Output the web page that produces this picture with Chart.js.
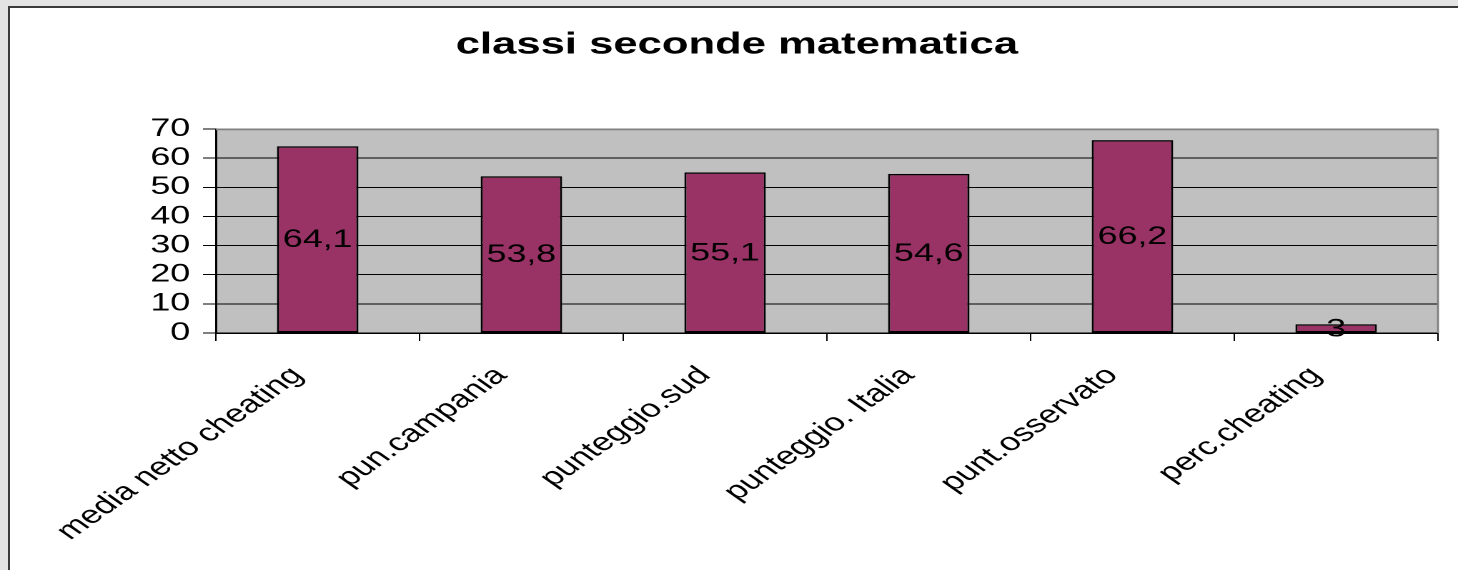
<!DOCTYPE html>
<html>
<head>
<meta charset="utf-8">
<script src="https://cdn.jsdelivr.net/npm/chart.js@4.4.1/dist/chart.umd.min.js"></script>
<style>
  html, body { margin: 0; padding: 0; width: 1458px; height: 570px; overflow: hidden; background: #e3e3e3; }
  #frame { position: absolute; left: 8px; top: 6px; width: 1460px; height: 580px; background: #fff;
           border-left: 2px solid #3a3a3a; border-top: 2px solid #3a3a3a; }
  #wrap { position: absolute; left: 0; top: 0; width: 1020px; height: 570px;
          transform-origin: 0 0; transform: scaleX(1.4294); }
</style>
</head>
<body>
<div id="frame"></div>
<div id="wrap"><canvas id="c" width="1020" height="570"></canvas></div>
<script>
// ---- data ----
const chartTitle = 'classi seconde matematica';
const categories = ['media netto cheating', 'pun.campania', 'punteggio.sud', 'punteggio. Italia', 'punt.osservato', 'perc.cheating'];
const values = [64.1, 53.8, 55.1, 54.6, 66.2, 3];
const yMin = 0, yMax = 70, yStep = 10;

const FONT = '"Liberation Sans", Arial, sans-serif';

const plotBg = {
  id: 'plotBg',
  beforeDraw(chart) {
    const a = chart.chartArea, ctx = chart.ctx;
    ctx.save();
    ctx.fillStyle = '#c0c0c0';
    ctx.fillRect(a.left, a.top, a.right - a.left, a.bottom - a.top);
    ctx.restore();
  },
  afterDraw(chart) {
    const a = chart.chartArea, ctx = chart.ctx;
    ctx.save();
    ctx.strokeStyle = '#808080';
    ctx.lineWidth = 1.4;
    ctx.beginPath();
    ctx.moveTo(a.left, a.top + 0.5);
    ctx.lineTo(a.right, a.top + 0.5);
    ctx.lineTo(a.right, a.bottom);
    ctx.stroke();
    ctx.restore();
  }
};

const valueLabels = {
  id: 'valueLabels',
  afterDatasetsDraw(chart) {
    const ctx = chart.ctx;
    const meta = chart.getDatasetMeta(0);
    ctx.save();
    ctx.font = '25px ' + FONT;
    ctx.fillStyle = '#000';
    ctx.textAlign = 'center';
    ctx.textBaseline = 'middle';
    meta.data.forEach((el, i) => {
      const txt = String(values[i]).replace('.', ',');
      ctx.fillText(txt, el.x, (el.y + el.base) / 2 + 1);
    });
    ctx.restore();
  }
};

new Chart(document.getElementById('c'), {
  type: 'bar',
  data: {
    labels: categories,
    datasets: [{
      data: values,
      backgroundColor: '#993366',
      borderColor: '#000',
      borderWidth: 1.5,
      borderSkipped: false,
      categoryPercentage: 1,
      barPercentage: 0.4
    }]
  },
  options: {
    responsive: false,
    devicePixelRatio: 2,
    animation: false,
    layout: { padding: { left: 25, right: 14, top: 0, bottom: 0 } },
    plugins: {
      legend: { display: false },
      tooltip: { enabled: false },
      title: {
        display: true,
        text: chartTitle,
        color: '#000',
        font: { family: FONT, size: 30.5, weight: 'bold', lineHeight: 1.2 },
        padding: { top: 27, bottom: 65.4 }
      }
    },
    scales: {
      x: {
        offset: true,
        grid: { display: true, drawOnChartArea: false, drawTicks: true, tickLength: 8, color: '#000', offset: true },
        border: { display: true, color: '#000', width: 1.5 },
        ticks: { color: '#000', font: { family: FONT, size: 25 }, autoSkip: false, minRotation: 45, maxRotation: 45, padding: 20, labelOffset: -14 },
        afterFit(s) { s.height = 237; }
      },
      y: {
        min: yMin, max: yMax,
        grid: {
          color: (c) => (c.tick && c.tick.value === yMax) ? '#808080' : '#000',
          lineWidth: 1, drawTicks: true, tickLength: 9, tickColor: '#000'
        },
        border: { display: true, color: '#000', width: 1.5 },
        ticks: { stepSize: yStep, autoSkip: false, color: '#000', font: { family: FONT, size: 25 }, padding: 9 },
        afterFit(s) { s.width = 126; }
      }
    }
  },
  plugins: [plotBg, valueLabels]
});
</script>
</body>
</html>
